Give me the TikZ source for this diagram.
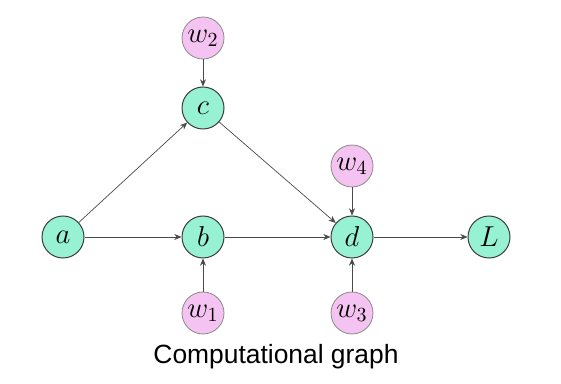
\documentclass[tikz,border=0pt]{standalone}
\usepackage{fontspec}
\setsansfont{Liberation Sans}
\usetikzlibrary{arrows.meta}
\definecolor{cgvar}{HTML}{96F2D3}
\definecolor{cgweight}{HTML}{F5C3F1}
\definecolor{cgink}{HTML}{3C3C3C}
\definecolor{cgedge}{HTML}{4A4A4A}
\tikzset{
  every picture/.style={font=\Large},
  var/.style={circle,draw=cgink,fill=cgvar,line width=0.5pt,
    minimum size=21pt,inner sep=0pt},
  weight/.style={circle,draw=cgink!60,fill=cgweight,line width=0.4pt,
    minimum size=21pt,inner sep=0pt},
  flow/.style={draw=cgedge,line width=0.35pt,
    -{Stealth[length=3.6pt,width=3pt]}},
}
\begin{document}
\begin{tikzpicture}[x=0.5pt,y=0.5pt]
  \path[use as bounding box] (0,0) rectangle (561,-384);
  \node[var] (a) at (63,-237) {$a$};
  \node[var] (b) at (203,-237) {$b$};
  \node[var] (c) at (203,-108) {$c$};
  \node[var] (d) at (352,-237) {$d$};
  \node[var] (L) at (489,-237) {$L$};
  \node[weight] (w2) at (203,-38) {$w_2$};
  \node[weight] (w4) at (352,-166) {$w_4$};
  \node[weight] (w1) at (203,-313) {$w_1$};
  \node[weight] (w3) at (352,-313) {$w_3$};
  \draw[flow] (a)--(b);
  \draw[flow] (a)--(c);
  \draw[flow] (w2)--(c);
  \draw[flow] (w1)--(b);
  \draw[flow] (b)--(d);
  \draw[flow] (c)--(d);
  \draw[flow] (w4)--(d);
  \draw[flow] (w3)--(d);
  \draw[flow] (d)--(L);
  \node[font=\sffamily\fontsize{13.2}{16}\selectfont] (caption) at (276,-357)
    {Computational graph};
\end{tikzpicture}
\end{document}
